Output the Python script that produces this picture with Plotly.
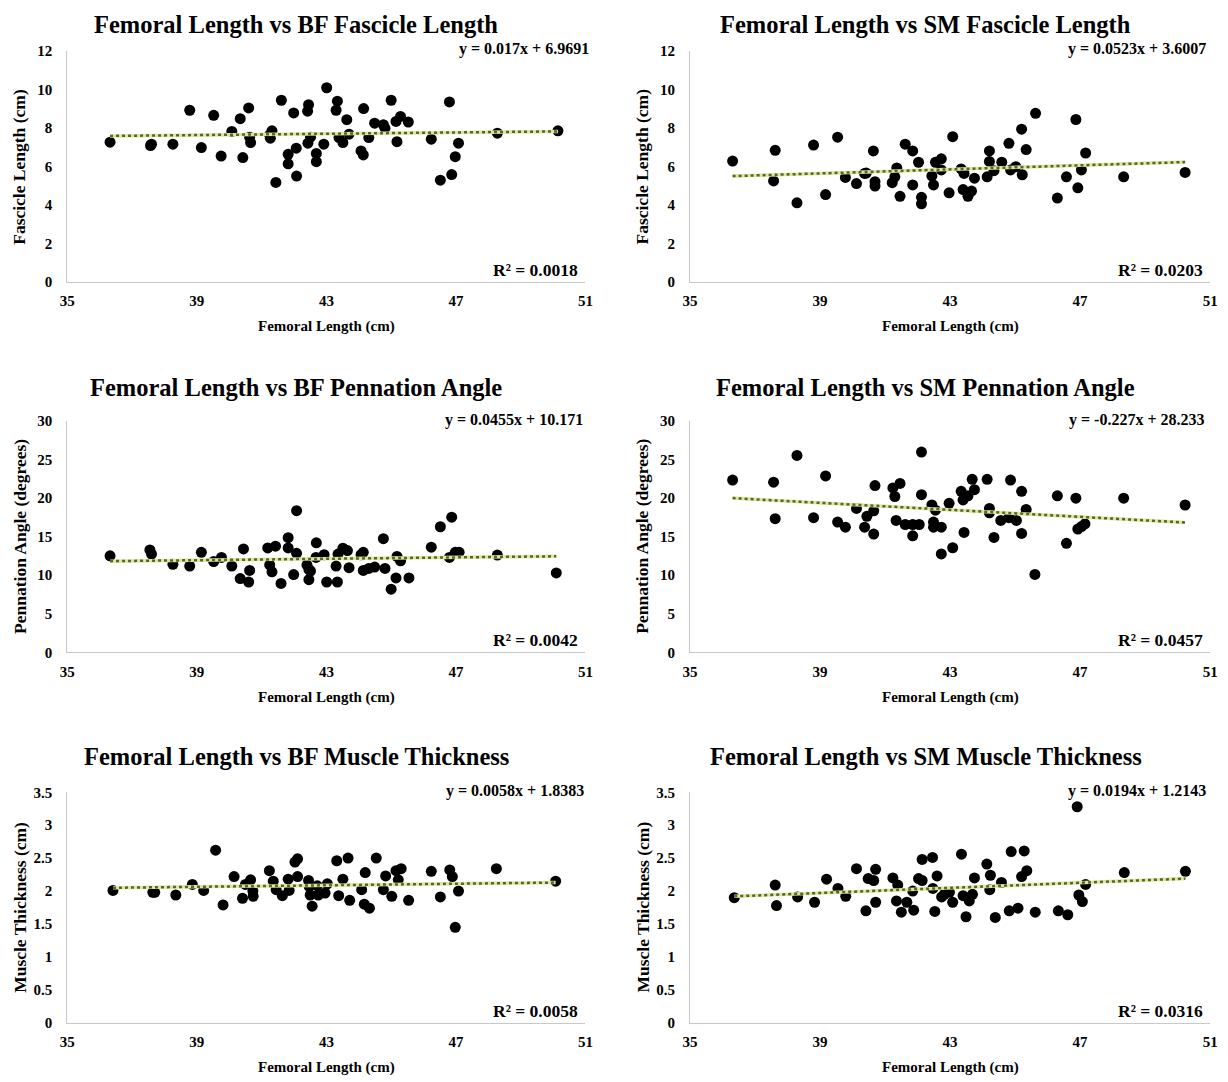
import plotly.graph_objects as go

# ---------------- data ----------------
bf_fl_x = [36.32, 37.57, 37.60, 38.26, 38.78, 39.14, 39.52, 39.75, 40.08, 40.34, 40.42, 40.60, 40.63, 40.66,
           41.25, 41.32, 41.27, 41.44, 41.61, 41.82, 41.82, 41.99, 42.07, 42.08, 42.43, 42.45, 42.42, 42.51,
           42.69, 42.69, 42.92, 43.01, 43.34, 43.30, 43.39, 43.51, 43.63, 43.70, 44.07, 44.14, 44.15, 44.31,
           44.49, 44.76, 44.81, 45.00, 45.15, 45.29, 45.18, 45.53, 46.24, 46.52, 46.80, 46.87, 46.98, 47.08,
           48.28, 50.15]
bf_fl_y = [7.26, 7.09, 7.16, 7.16, 8.92, 6.98, 8.66, 6.54, 7.82, 8.48, 6.46, 9.04, 7.52, 7.24,
           7.64, 7.85, 7.47, 5.17, 9.44, 6.63, 6.14, 8.78, 6.95, 5.50, 7.21, 9.21, 8.87, 7.52,
           6.68, 6.25, 7.16, 10.09, 9.39, 8.92, 7.50, 7.24, 8.43, 7.68, 6.81, 6.60, 9.01, 7.50,
           8.25, 8.17, 7.99, 9.44, 8.34, 8.60, 7.29, 8.31, 7.42, 5.29, 9.35, 5.58, 6.51, 7.21,
           7.73, 7.85]

sm_fl_x = [36.31, 37.62, 37.57, 38.29, 38.80, 39.17, 39.54, 39.78, 40.12, 40.37, 40.42, 40.64, 40.69, 40.69,
           41.22, 41.30, 41.36, 41.46, 41.62, 41.85, 41.85, 42.03, 42.12, 42.12, 42.44, 42.49, 42.55, 42.73,
           42.73, 42.97, 43.08, 43.34, 43.43, 43.40, 43.55, 43.66, 43.75, 44.14, 44.21, 44.21, 44.35, 44.59,
           44.81, 44.86, 45.02, 45.22, 45.20, 45.34, 45.63, 46.30, 46.58, 46.87, 46.93, 47.04, 47.17, 48.34,
           50.23]
sm_fl_y = [6.28, 6.84, 5.25, 4.11, 7.11, 4.54, 7.52, 5.43, 5.11, 5.64, 5.66, 6.81, 5.21, 4.98,
           5.16, 5.46, 5.92, 4.45, 7.16, 6.81, 5.04, 6.22, 4.40, 4.06, 5.51, 5.04, 6.22, 6.40,
           5.82, 4.63, 7.55, 5.87, 5.64, 4.80, 4.45, 4.72, 5.39, 5.46, 6.81, 6.26, 5.78, 6.22,
           7.20, 5.82, 5.99, 5.57, 7.94, 6.88, 8.76, 4.36, 5.46, 8.44, 4.89, 5.82, 6.70, 5.46,
           5.69]

bf_pa_x = [36.32, 37.55, 37.60, 38.26, 38.78, 39.14, 39.52, 39.76, 40.08, 40.34, 40.44, 40.60, 40.63, 41.19,
           41.43, 41.25, 41.32, 41.60, 41.82, 41.82, 41.99, 42.08, 42.08, 42.40, 42.46, 42.46, 42.51, 42.69,
           42.68, 42.93, 43.01, 43.30, 43.34, 43.36, 43.51, 43.65, 43.70, 44.07, 44.14, 44.14, 44.31, 44.49,
           44.76, 44.81, 45.00, 45.18, 45.29, 45.15, 45.55, 46.24, 46.52, 46.80, 46.87, 46.98, 47.10, 48.28,
           50.10]
bf_pa_y = [12.52, 13.27, 12.74, 11.42, 11.19, 12.96, 11.77, 12.30, 11.19, 9.56, 13.41, 9.12, 10.62, 13.54,
           13.76, 11.33, 10.44, 8.94, 14.87, 13.54, 10.09, 18.36, 12.83, 11.33, 10.75, 9.42, 10.53, 14.20,
           12.30, 12.65, 9.12, 11.19, 9.12, 12.74, 13.50, 13.19, 10.97, 12.65, 12.96, 10.62, 10.88, 11.06,
           14.73, 10.88, 8.19, 12.43, 11.86, 9.65, 9.65, 13.63, 16.28, 12.30, 17.52, 12.96, 12.96, 12.61,
           10.30]

sm_pa_x = [36.31, 37.57, 37.62, 38.29, 38.80, 39.17, 39.54, 39.78, 40.12, 40.37, 40.44, 40.69, 40.65, 40.65,
           41.24, 41.30, 41.46, 41.34, 41.62, 41.85, 41.85, 42.05, 42.12, 42.12, 42.44, 42.55, 42.49, 42.49,
           42.73, 42.73, 42.97, 43.08, 43.34, 43.40, 43.43, 43.55, 43.68, 43.75, 44.14, 44.21, 44.21, 44.35,
           44.56, 44.81, 44.86, 45.04, 45.20, 45.20, 45.34, 45.61, 46.30, 46.58, 46.87, 46.93, 47.04, 47.15,
           48.34, 50.23]
sm_pa_y = [22.33, 22.06, 17.32, 25.52, 17.46, 22.86, 16.88, 16.22, 18.65, 16.22, 17.63, 21.62, 18.34, 15.33,
           21.31, 20.20, 21.89, 17.10, 16.57, 15.11, 16.57, 16.57, 20.43, 25.96, 19.10, 18.43, 16.88, 16.22,
           16.22, 12.76, 19.32, 13.56, 20.87, 19.76, 15.55, 20.29, 22.42, 21.09, 22.42, 18.65, 18.08, 14.89,
           17.10, 17.46, 22.33, 17.10, 20.87, 15.42, 18.52, 10.10, 20.29, 14.13, 19.98, 15.99, 16.31, 16.66,
           19.98, 19.10]

bf_mt_x = [36.41, 37.64, 37.70, 38.35, 38.86, 39.21, 39.58, 39.81, 40.15, 40.41, 40.50, 40.66, 40.73, 40.74,
           41.24, 41.36, 41.45, 41.64, 41.82, 41.85, 42.03, 42.11, 42.11, 42.45, 42.47, 42.50, 42.56, 42.72,
           42.75, 42.96, 43.03, 43.32, 43.38, 43.51, 43.67, 43.72, 44.09, 44.20, 44.17, 44.33, 44.54, 44.76,
           44.83, 45.02, 45.15, 45.22, 45.31, 45.54, 46.24, 46.52, 46.81, 46.89, 46.98, 47.08, 48.25, 50.08]
bf_mt_y = [2.01, 1.98, 1.98, 1.94, 2.10, 2.01, 2.62, 1.79, 2.22, 1.89, 2.10, 2.17, 2.00, 1.92,
           2.31, 2.15, 2.02, 1.93, 2.18, 2.01, 2.44, 2.49, 2.22, 2.16, 2.07, 1.94, 1.77, 2.08,
           1.94, 1.97, 2.11, 2.46, 1.93, 2.18, 2.50, 1.86, 2.02, 2.28, 1.80, 1.74, 2.50, 2.02,
           2.23, 1.92, 2.31, 2.17, 2.34, 1.86, 2.30, 1.91, 2.32, 2.22, 1.45, 2.00, 2.34, 2.15]

sm_mt_x = [36.36, 37.62, 37.66, 38.31, 38.83, 39.20, 39.55, 39.79, 40.12, 40.41, 40.48, 40.65, 40.71, 40.71,
           41.24, 41.35, 41.39, 41.50, 41.67, 41.85, 41.88, 42.03, 42.14, 42.14, 42.46, 42.47, 42.53, 42.60,
           42.74, 42.82, 42.98, 43.08, 43.35, 43.40, 43.49, 43.59, 43.69, 43.75, 44.13, 44.22, 44.24, 44.39,
           44.58, 44.82, 44.88, 45.09, 45.20, 45.28, 45.36, 45.62, 46.33, 46.62, 46.91, 46.96, 47.07, 47.17,
           48.36, 50.24]
sm_mt_y = [1.90, 2.09, 1.78, 1.91, 1.83, 2.18, 2.04, 1.92, 2.34, 1.70, 2.19, 2.16, 2.33, 1.83,
           2.20, 1.85, 2.09, 1.68, 1.83, 2.00, 1.71, 2.19, 2.16, 2.48, 2.51, 2.04, 1.69, 2.23,
           1.91, 1.95, 1.98, 1.83, 2.56, 1.93, 1.61, 1.85, 1.95, 2.20, 2.41, 2.02, 2.24, 1.60,
           2.13, 1.70, 2.60, 1.74, 2.22, 2.61, 2.31, 1.68, 1.70, 1.64, 3.28, 1.94, 1.84, 2.10,
           2.28, 2.30]

titles = ["Femoral Length vs BF Fascicle Length", "Femoral Length vs SM Fascicle Length",
          "Femoral Length vs BF Pennation Angle", "Femoral Length vs SM Pennation Angle",
          "Femoral Length vs BF Muscle Thickness", "Femoral Length vs SM Muscle Thickness"]
y_titles = ["Fascicle Length (cm)", "Fascicle Length (cm)",
            "Pennation Angle (degrees)", "Pennation Angle (degrees)",
            "Muscle Thickness (cm)", "Muscle Thickness (cm)"]
x_title = "Femoral Length (cm)"
equations = ["y = 0.017x + 6.9691", "y = 0.0523x + 3.6007",
             "y = 0.0455x + 10.171", "y = -0.227x + 28.233",
             "y = 0.0058x + 1.8383", "y = 0.0194x + 1.2143"]
slopes = [0.017, 0.0523, 0.0455, -0.227, 0.0058, 0.0194]
intercepts = [6.9691, 3.6007, 10.171, 28.233, 1.8383, 1.2143]
r2_labels = ["R² = 0.0018", "R² = 0.0203", "R² = 0.0042", "R² = 0.0457", "R² = 0.0058", "R² = 0.0316"]
x_ticks = [35, 39, 43, 47, 51]
y_ranges = [(0, 12), (0, 12), (0, 30), (0, 30), (0, 3.5), (0, 3.5)]
y_dticks = [2, 2, 5, 5, 0.5, 0.5]

xs = [bf_fl_x, sm_fl_x, bf_pa_x, sm_pa_x, bf_mt_x, sm_mt_x]
ys = [bf_fl_y, sm_fl_y, bf_pa_y, sm_pa_y, bf_mt_y, sm_mt_y]

# ---------------- layout ----------------
W, H = 1220, 1074   # page body adds an 8px margin
col_px = [(52, 577), (683, 1210)]
row_px = [(35.5, 270), (411, 646), (788, 1022)]   # (top, bottom)
col_dom = [(a / W, b / W) for a, b in col_px]
row_dom = [(1 - b / H, 1 - a / H) for a, b in row_px]
title_x = [284 / W, 922 / W]
title_y = [1 - 8.5 / H, 1 - 377 / H, 1 - 752 / H]
eq_xshift = [6, -2, 0, -3, 1, -2]
eq_yshift = [2, 2, 1, 1, 1, 1]

FONT = "Liberation Serif"
fig = go.Figure()
annotations = []

for i in range(6):
    r, c = divmod(i, 2)
    ax = "" if i == 0 else str(i + 1)
    xref, yref = "x" + ax, "y" + ax

    fig.add_trace(go.Scatter(x=xs[i], y=ys[i], mode="markers", xaxis=xref, yaxis=yref,
                             marker=dict(color="black", size=11), showlegend=False, hoverinfo="x+y"))
    x0, x1 = min(xs[i]), max(xs[i])
    tx = [x0, x1]
    ty = [slopes[i] * x0 + intercepts[i], slopes[i] * x1 + intercepts[i]]
    fig.add_trace(go.Scatter(x=tx, y=ty, mode="lines", xaxis=xref, yaxis=yref,
                             line=dict(color="#dbe89e", width=3.5), showlegend=False, hoverinfo="skip"))
    fig.add_trace(go.Scatter(x=tx, y=ty, mode="lines", xaxis=xref, yaxis=yref,
                             line=dict(color="#56662a", width=2.5, dash="dot"), showlegend=False,
                             hoverinfo="skip"))

    common_tick = dict(family=FONT, size=15, color="black", weight="bold")
    fig.layout["xaxis" + ax] = dict(domain=list(col_dom[c]), anchor=yref, range=[35, 51],
                                    tickvals=x_ticks, showgrid=False, zeroline=False,
                                    showline=True, linecolor="#c8c8c8", linewidth=1.3,
                                    ticks="outside", ticklen=5, tickcolor="rgba(0,0,0,0)",
                                    tickfont=common_tick)
    fig.layout["yaxis" + ax] = dict(domain=list(row_dom[r]), anchor=xref, range=list(y_ranges[i]),
                                    dtick=y_dticks[i], tick0=0, showgrid=False, zeroline=False,
                                    showline=True, linecolor="#c8c8c8", linewidth=1.3,
                                    ticks="outside", ticklen=11, tickcolor="rgba(0,0,0,0)",
                                    tickfont=common_tick)

    dx0, dx1 = col_dom[c]
    dy0, dy1 = row_dom[r]
    annotations.append(dict(text=titles[i], x=title_x[c], y=title_y[r], xref="paper", yref="paper",
                            xanchor="center", yanchor="middle", showarrow=False,
                            font=dict(family=FONT, size=24.5, color="black", weight="bold")))
    annotations.append(dict(text=x_title, x=(dx0 + dx1) / 2, y=dy0, xref="paper", yref="paper",
                            xanchor="center", yanchor="middle", yshift=-45, showarrow=False,
                            font=dict(family=FONT, size=15, color="black", weight="bold")))
    annotations.append(dict(text=y_titles[i], x=dx0, y=(dy0 + dy1) / 2, xref="paper", yref="paper",
                            xanchor="center", yanchor="middle", xshift=-48, textangle=-90,
                            showarrow=False,
                            font=dict(family=FONT, size=17.5, color="black", weight="bold")))
    annotations.append(dict(text=equations[i], x=dx1, y=dy1, xref="paper", yref="paper",
                            xanchor="right", yanchor="middle", xshift=eq_xshift[i], yshift=eq_yshift[i],
                            showarrow=False,
                            font=dict(family=FONT, size=16, color="black", weight="bold")))
    annotations.append(dict(text=r2_labels[i], x=dx1, y=dy0, xref="paper", yref="paper",
                            xanchor="right", yanchor="middle", xshift=-5, yshift=12, showarrow=False,
                            font=dict(family=FONT, size=17.5, color="black", weight="bold")))

fig.update_layout(width=W, height=H, autosize=False, margin=dict(l=0, r=0, t=0, b=0),
                  paper_bgcolor="white", plot_bgcolor="white", annotations=annotations,
                  font=dict(family=FONT, color="black"))

fig.write_html("out.html")
